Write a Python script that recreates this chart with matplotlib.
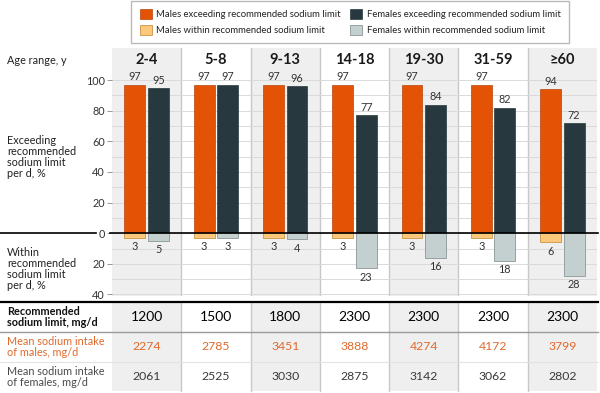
import matplotlib
matplotlib.use("Agg")
import matplotlib.pyplot as plt
from matplotlib.patches import Patch, Rectangle
import numpy as np

plt.rcParams['font.family'] = ['Lato', 'DejaVu Sans']

ages = ['2-4', '5-8', '9-13', '14-18', '19-30', '31-59', '≥60']
male_exceed = [97, 97, 97, 97, 97, 97, 94]
female_exceed = [95, 97, 96, 77, 84, 82, 72]
male_within = [3, 3, 3, 3, 3, 3, 6]
female_within = [5, 3, 4, 23, 16, 18, 28]
rec_limit = [1200, 1500, 1800, 2300, 2300, 2300, 2300]
male_intake = [2274, 2785, 3451, 3888, 4274, 4172, 3799]
female_intake = [2061, 2525, 3030, 2875, 3142, 3062, 2802]

ORANGE = '#E35205'
DARK = '#27393F'
LORANGE = '#FDC87A'
LGRAY = '#C4D0D0'
PANEL = '#EFEFEF'
SEP = '#C8C8C8'
TXT_OR = '#E06A2C'
TXT_GR = '#4A4A4A'

W, H = 600, 393
fig = plt.figure(figsize=(6, 3.93), dpi=100)

# plot area in pixels
L, R, T, B = 112, 597, 48, 296
ax = fig.add_axes([L / W, 1 - B / H, (R - L) / W, (B - T) / H])
n = len(ages)
ax.set_xlim(0, n)
ax.set_ylim(-41, 121)

for i in range(n):
    if i % 2 == 0:
        ax.axvspan(i, i + 1, color=PANEL, zorder=0.2, lw=0)
    if i > 0:
        ax.axvline(i, color=SEP, lw=1, zorder=0.3)

x = np.arange(n) + 0.5
bw = 0.30
off = 0.17
ax.bar(x - off, male_exceed, bw, color=ORANGE, edgecolor='#B8460A', lw=0.5, zorder=2)
ax.bar(x + off, female_exceed, bw, color=DARK, edgecolor=DARK, lw=0.5, zorder=2)
ax.bar(x - off, [-v for v in male_within], bw, color=LORANGE, edgecolor='#C9954A', lw=0.6, zorder=2)
ax.bar(x + off, [-v for v in female_within], bw, color=LGRAY, edgecolor='#8A9898', lw=0.6, zorder=2)

for i in range(n):
    ax.text(x[i] - off, male_exceed[i] + 1.5, str(male_exceed[i]), ha='center', va='bottom',
            fontsize=7.8, color='#333333', zorder=5)
    ax.text(x[i] + off, female_exceed[i] + 1.5, str(female_exceed[i]), ha='center', va='bottom',
            fontsize=7.8, color='#333333', zorder=5)
    ax.text(x[i] - off, -male_within[i] - 2.2, str(male_within[i]), ha='center', va='top',
            fontsize=7.8, color='#333333', zorder=5)
    ax.text(x[i] + off, -female_within[i] - 2.2, str(female_within[i]), ha='center', va='top',
            fontsize=7.8, color='#333333', zorder=5)
    ax.text(x[i], 113, ages[i], ha='center', va='center', fontsize=10.5, fontweight='bold',
            color='#1a1a1a', zorder=5)

major = [-40, -20, 0, 20, 40, 60, 80, 100]
ax.set_yticks(major)
ax.set_yticklabels([str(abs(v)) for v in major])
ax.set_yticks(np.arange(-40, 101, 10), minor=True)
ax.grid(True, which='both', axis='y', color='#DADADA', lw=0.7, zorder=0.5)
ax.tick_params(axis='y', which='major', length=3.5, width=0.6, color='#888888', pad=1.5,
               labelsize=7.8, labelcolor='#333333')
ax.tick_params(axis='y', which='minor', length=0)
ax.tick_params(axis='x', bottom=False, labelbottom=False)
for s in ax.spines.values():
    s.set_visible(False)

# overlay in pixel coordinates
ov = fig.add_axes([0, 0, 1, 1], facecolor='none')
ov.set_xlim(0, W)
ov.set_ylim(H, 0)
ov.axis('off')

pw = (R - L) / n
y0 = T + (121 - 0) / 162 * (B - T)
ov.plot([0, 96], [y0, y0], color='black', lw=1.2, zorder=6)
ov.plot([L - 2, R + 1], [y0, y0], color='black', lw=1.2, zorder=6)

# left labels
ov.text(7, 60, 'Age range, y', ha='left', va='center', fontsize=7.8, color='#222222')
ov.text(7, 157, 'Exceeding\nrecommended\nsodium limit\nper d, %', ha='left', va='center',
        fontsize=7.8, color='#222222', linespacing=1.0)
ov.text(7, 269, 'Within\nrecommended\nsodium limit\nper d, %', ha='left', va='center',
        fontsize=7.8, color='#222222', linespacing=1.0)

# table
TT, TB = 302, 391
for i in range(n):
    if i % 2 == 0:
        ov.add_patch(Rectangle((L + i * pw, TT), pw, TB - TT, color=PANEL, lw=0, zorder=1))
    if i > 0:
        ov.plot([L + i * pw] * 2, [TT, TB], color=SEP, lw=1, zorder=2)
ov.plot([0, R + 1], [TT, TT], color='black', lw=1.6, zorder=4)
ov.plot([0, R + 1], [332, 332], color='#9A9A9A', lw=1.0, zorder=4)
ov.plot([0, R + 1], [362, 362], color='#E2E2E2', lw=0.8, zorder=4)

ov.text(7, 317, 'Recommended\nsodium limit, mg/d', ha='left', va='center', fontsize=7.8,
        fontweight='bold', color='#111111', linespacing=1.0, zorder=5)
ov.text(7, 347, 'Mean sodium intake\nof males, mg/d', ha='left', va='center', fontsize=7.8,
        color=TXT_OR, linespacing=1.0, zorder=5)
ov.text(7, 377, 'Mean sodium intake\nof females, mg/d', ha='left', va='center', fontsize=7.8,
        color=TXT_GR, linespacing=1.0, zorder=5)

for i in range(n):
    cx = L + (i + 0.5) * pw
    ov.text(cx, 317, str(rec_limit[i]), ha='center', va='center', fontsize=10,
            color='#000000', zorder=5)
    ov.text(cx, 347, str(male_intake[i]), ha='center', va='center', fontsize=8.8,
            color=TXT_OR, zorder=5)
    ov.text(cx, 377, str(female_intake[i]), ha='center', va='center', fontsize=8.8,
            color='#3A3A3A', zorder=5)

# legend
handles = [
    Patch(facecolor=ORANGE, edgecolor='#B8460A', lw=0.5, label='Males exceeding recommended sodium limit'),
    Patch(facecolor=LORANGE, edgecolor='#C9954A', lw=0.6, label='Males within recommended sodium limit'),
    Patch(facecolor=DARK, edgecolor=DARK, lw=0.5, label='Females exceeding recommended sodium limit'),
    Patch(facecolor=LGRAY, edgecolor='#8A9898', lw=0.6, label='Females within recommended sodium limit'),
]
leg = fig.legend(handles=handles, ncol=2, loc='upper center', bbox_to_anchor=(350 / W, 1 - 1 / H),
                 fontsize=6.8, frameon=True, fancybox=False, edgecolor='#AAAAAA',
                 handlelength=1.3, handleheight=1.3, handletextpad=0.45, columnspacing=1.0,
                 labelspacing=0.6, borderpad=0.85, borderaxespad=0)
leg.get_frame().set_linewidth(1.0)
for t in leg.get_texts():
    t.set_color('#222222')

fig.savefig('out.png', dpi=100)
